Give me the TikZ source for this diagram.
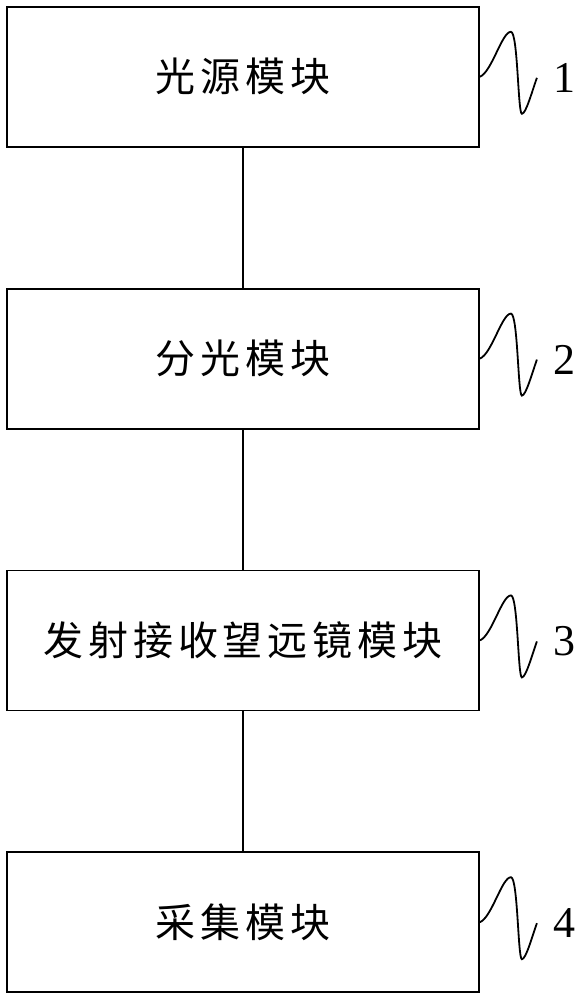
\documentclass[tikz,border=0pt]{standalone}
\usepackage{fontspec}
\setmainfont{Liberation Serif}
\newfontfamily\cjk[LetterSpace=12]{Noto Sans CJK SC}
\usetikzlibrary{matrix,positioning}

\begin{document}
\begin{tikzpicture}[x=1pt,y=1pt,
	module/.style={draw,line width=1.8pt,minimum width=472pt,minimum height=140pt,inner sep=0pt,font=\cjk\fontsize{40}{42}\selectfont},
	wave/.style={line width=1.8pt},
	tag/.style={font=\fontsize{44}{44}\selectfont,inner sep=0pt}]
	\useasboundingbox (0,0) rectangle (578,-1000);
	\matrix (m) [matrix of nodes,row sep=140pt,nodes={module}] at (243,-499.5)
	{
	光源模块 \\
	分光模块 \\
	发射接收望远镜模块 \\
	采集模块 \\};
	\path[line width=1.8pt]
	(m-1-1) edge (m-2-1)
	(m-2-1) edge (m-3-1)
	(m-3-1) edge (m-4-1);
	\foreach \i in {1,...,4}
	{
	\draw[wave] (m-\i-1.east) .. controls +(12,5) and +(-9,0) .. ++(31,45)
		.. controls +(7,0) and +(-4,0) .. ++(11,-82)
		.. controls +(4,0) and +(-5,-14) .. ++(15,36) coordinate (w\i);
	\node[tag,right=16pt of w\i] (t\i) {\i};
	}
\end{tikzpicture}
\end{document}
